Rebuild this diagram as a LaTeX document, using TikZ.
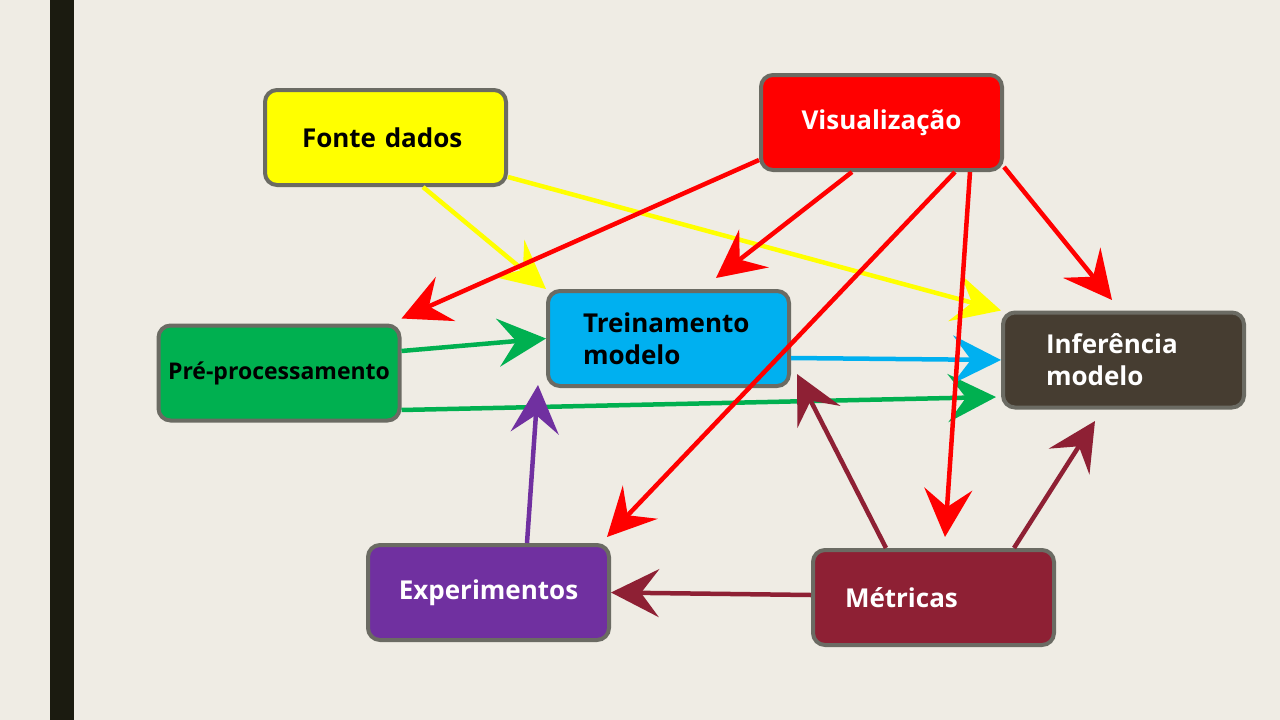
\documentclass[tikz,border=0pt]{standalone}
\usepackage{fontspec}
\setmainfont{Open Sans}
\usepackage{xcolor}
\usepackage{tikz}
\usetikzlibrary{arrows.meta}

\definecolor{fundo}{RGB}{239,236,228}
\definecolor{barra}{RGB}{27,27,16}
\definecolor{borda}{RGB}{107,107,99}
\definecolor{amarelo}{RGB}{255,255,0}
\definecolor{vermelho}{RGB}{255,0,0}
\definecolor{verde}{RGB}{0,176,80}
\definecolor{azul}{RGB}{0,176,240}
\definecolor{marrom}{RGB}{70,61,49}
\definecolor{roxo}{RGB}{112,48,160}
\definecolor{vinho}{RGB}{142,32,52}

\begin{document}
\begin{tikzpicture}[
    x=1pt, y=-1pt,
    bloco/.style={rectangle, draw=borda, line width=4pt, rounded corners=12pt, minimum width=241pt, minimum height=95pt, align=left, font=\fontsize{26}{32}\selectfont\bfseries},
    seta/.style={-{Stealth[length=48pt, width=48pt, inset=18pt]}, line width=4.5pt}
]
    % fundo e barra lateral
    \fill[fundo] (0,0) rectangle (1280,720);
    \useasboundingbox (0,0) rectangle (1280,720);
    \fill[barra] (50,0) rectangle (74,720);

    \node[bloco, fill=amarelo, inner xsep=37pt, text width=167pt] (fonte) at (385.5,137.5) {Fonte dados};
    \node[bloco, fill=vermelho, text=white] (vis) at (881.5,122.5) {Visualização};
    \node[bloco, fill=azul, inner xsep=35pt, text width=171pt] (trein) at (668.5,338.5) {Treinamento\\modelo};
    \node[bloco, fill=marrom, text=white, inner xsep=43pt, text width=155pt] (infer) at (1123.5,360) {Inferência\\modelo};
    \node[bloco, fill=verde, font=\fontsize{23}{28}\selectfont\bfseries, inner xsep=5pt] (prep) at (279,373) {Pré-processamento};
    \node[bloco, fill=roxo, text=white] (exper) at (488.5,592.5) {Experimentos};
    \node[bloco, fill=vinho, text=white, inner xsep=32pt, text width=177pt] (metr) at (933.5,597.5) {Métricas};

    % fonte de dados
    \draw[seta, amarelo] ([xshift=37.5pt]fonte.south) -- (trein.north west);
    \draw[seta, amarelo] ([yshift=10pt]fonte.south east) -- (infer.north west);

    % pre-processamento e treinamento
    \draw[seta, verde] ([yshift=22pt]prep.east) -- (trein.west);
    \draw[seta, verde] ([yshift=-37pt]prep.east) -- ([xshift=-5pt, yshift=-37pt]infer.west);
    \draw[seta, azul] ([yshift=-19.5pt]trein.east) -- (infer.west);
    \draw[seta, roxo] ([xshift=38.5pt]exper.north) -- ([xshift=-8pt, yshift=3pt]trein.south west);

    % metricas
    \draw[seta, vinho] ([xshift=-47.5pt]metr.north) -- ([xshift=6pt, yshift=14pt]trein.south east);
    \draw[seta, vinho] ([xshift=80.5pt]metr.north) -- ([xshift=-28.5pt, yshift=-11.5pt]infer.south);
    \draw[seta, vinho] ([yshift=2.5pt]metr.west) -- (exper.east);

    % visualizacao
    \draw[seta, vermelho] ([yshift=12pt]vis.south west) -- ([yshift=5pt]prep.north east);
    \draw[seta, vermelho] ([xshift=-29.5pt]vis.south) -- ([xshift=47.5pt, yshift=11pt]trein.north);
    \draw[seta, vermelho] ([xshift=73.5pt]vis.south) -- ([xshift=-4pt, yshift=6pt]exper.north east);
    \draw[seta, vermelho] ([xshift=88.5pt]vis.south) -- ([xshift=11.5pt, yshift=11pt]metr.north);
    \draw[seta, vermelho] ([yshift=5pt]vis.south east) -- ([xshift=-11.5pt, yshift=10.5pt]infer.north);
\end{tikzpicture}
\end{document}
